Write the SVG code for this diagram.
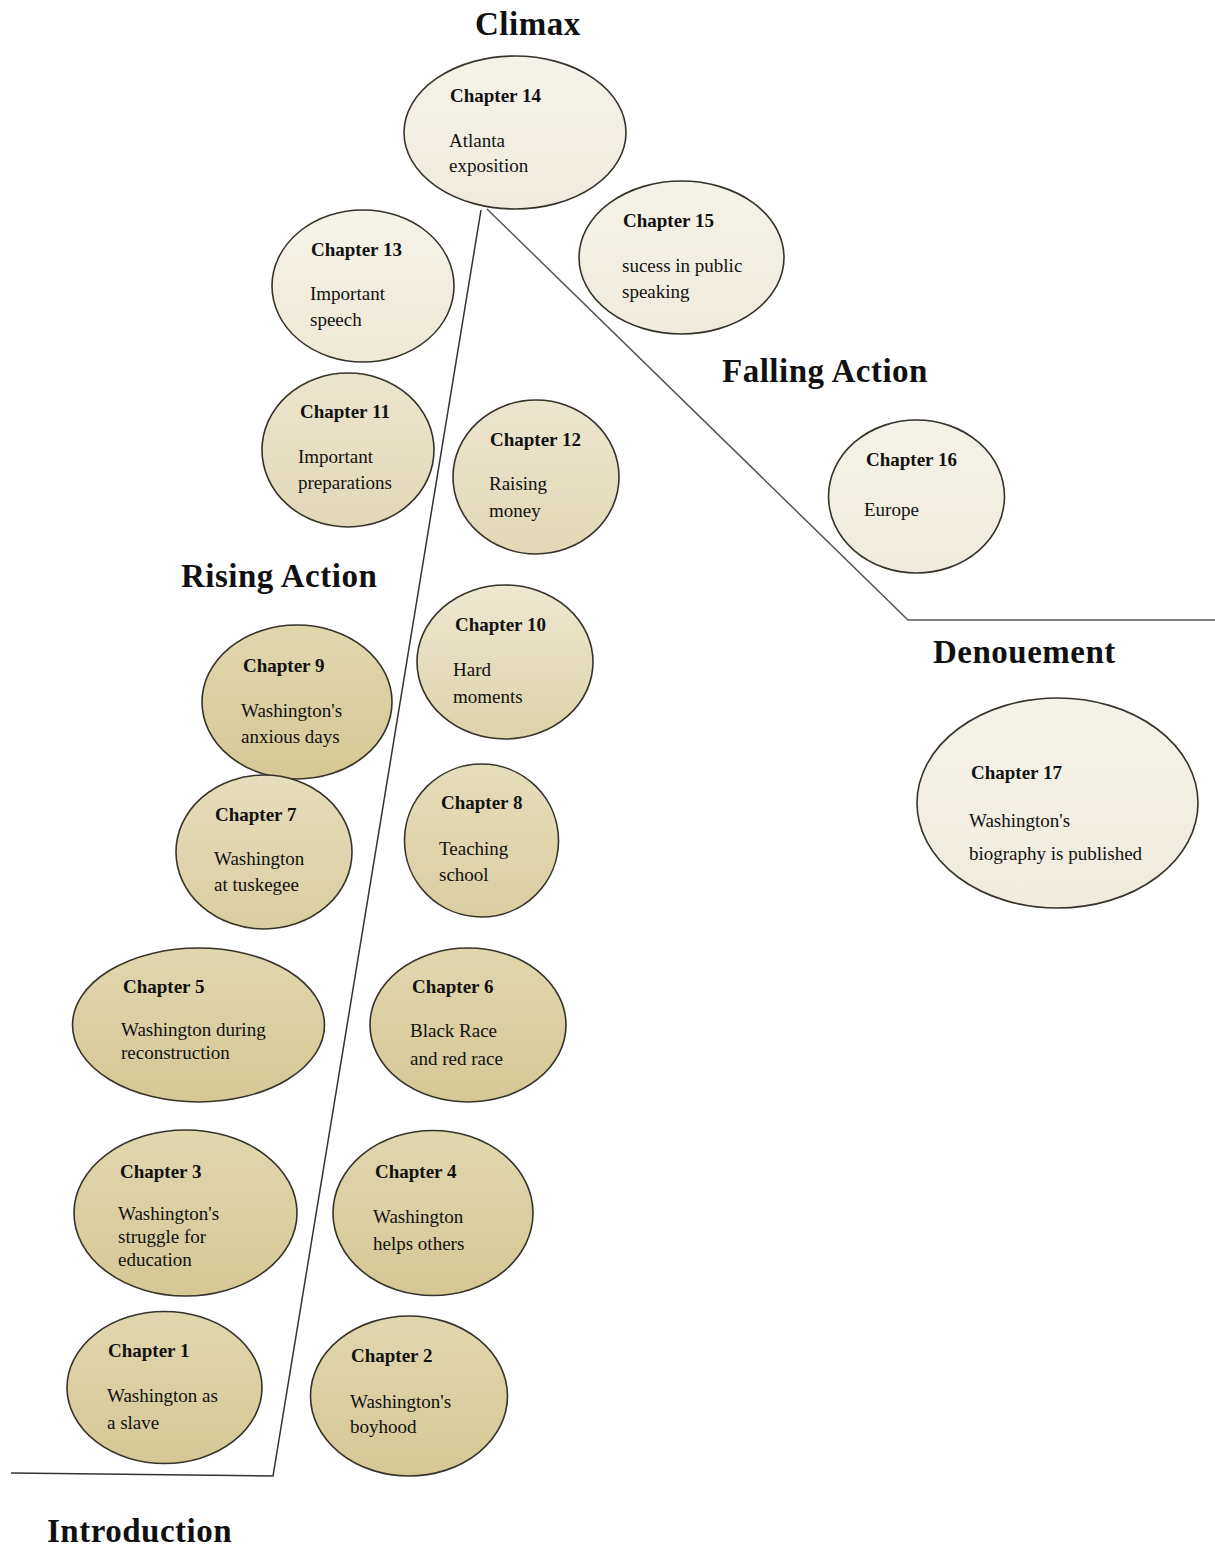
<svg xmlns="http://www.w3.org/2000/svg" width="1215" height="1546" viewBox="0 0 1215 1546">
<style>
.node ellipse{stroke:#35332a;stroke-width:1.6}
.head{font-family:"Liberation Serif","Times New Roman",serif;font-weight:bold;font-size:19px;fill:#111}
.body{font-family:"Liberation Serif","Times New Roman",serif;font-size:19px;fill:#111}
.title{font-family:"Liberation Serif","Times New Roman",serif;font-weight:bold;font-size:33px;letter-spacing:0.5px;fill:#111}
.conn line,.conn polyline{fill:none;stroke:#333;stroke-width:1.5}
</style>
<defs>
<linearGradient id="gDark" x1="0" y1="0" x2="0" y2="1"><stop offset="0" stop-color="#e1d7ae"/><stop offset="1" stop-color="#d5c895"/></linearGradient>
<linearGradient id="gMid" x1="0" y1="0" x2="0" y2="1"><stop offset="0" stop-color="#e6ddbb"/><stop offset="1" stop-color="#dacea0"/></linearGradient>
<linearGradient id="gTen" x1="0" y1="0" x2="0" y2="1"><stop offset="0" stop-color="#eee8d2"/><stop offset="1" stop-color="#ddd2a8"/></linearGradient>
<linearGradient id="gPale" x1="0" y1="0" x2="0" y2="1"><stop offset="0" stop-color="#ece5cf"/><stop offset="1" stop-color="#e2d8b7"/></linearGradient>
<linearGradient id="gLight" x1="0" y1="0" x2="0" y2="1"><stop offset="0" stop-color="#f6f3ea"/><stop offset="1" stop-color="#eee8d5"/></linearGradient>
<linearGradient id="gCream" x1="0" y1="0" x2="0" y2="1"><stop offset="0" stop-color="#f5f2e9"/><stop offset="1" stop-color="#f0ebdd"/></linearGradient>
</defs>
<rect width="1215" height="1546" fill="#fff"/>

<g id="connectors" class="conn">
<polyline points="11,1473 273,1476 481,210"/>
<polyline points="487,209 908,620 1215,620" style="stroke:#555"/>
</g>

<g id="titles">
<text class="title" x="475" y="35">Climax</text>
<text class="title" x="722" y="382">Falling Action</text>
<text class="title" x="181" y="587">Rising Action</text>
<text class="title" x="933" y="663">Denouement</text>
<text class="title" x="47" y="1542">Introduction</text>
</g>

<g id="ch14" class="node"><ellipse cx="515" cy="132.5" rx="111" ry="76.5" fill="url(#gCream)"/>
<text class="head" x="450" y="102">Chapter 14</text><text class="body" x="449" y="147">Atlanta</text><text class="body" x="449" y="172">exposition</text></g>

<g id="ch15" class="node"><ellipse cx="681.5" cy="257.5" rx="102.5" ry="76.5" fill="url(#gCream)"/>
<text class="head" x="623" y="227">Chapter 15</text><text class="body" x="622" y="272">sucess in public</text><text class="body" x="622" y="298">speaking</text></g>

<g id="ch13" class="node"><ellipse cx="363" cy="286" rx="91" ry="76" fill="url(#gLight)"/>
<text class="head" x="311" y="256">Chapter 13</text><text class="body" x="310" y="300">Important</text><text class="body" x="310" y="326">speech</text></g>

<g id="ch11" class="node"><ellipse cx="348" cy="450" rx="86" ry="77" fill="url(#gPale)"/>
<text class="head" x="300" y="418">Chapter 11</text><text class="body" x="298" y="463">Important</text><text class="body" x="298" y="489">preparations</text></g>

<g id="ch12" class="node"><ellipse cx="536" cy="477" rx="83" ry="77" fill="url(#gPale)"/>
<text class="head" x="490" y="446">Chapter 12</text><text class="body" x="489" y="490">Raising</text><text class="body" x="489" y="517">money</text></g>

<g id="ch16" class="node"><ellipse cx="916.5" cy="496.5" rx="88" ry="76.5" fill="url(#gCream)"/>
<text class="head" x="866" y="466">Chapter 16</text><text class="body" x="864" y="516">Europe</text></g>

<g id="ch10" class="node"><ellipse cx="505" cy="662" rx="88" ry="77" fill="url(#gTen)"/>
<text class="head" x="455" y="631">Chapter 10</text><text class="body" x="453" y="676">Hard</text><text class="body" x="453" y="703">moments</text></g>

<g id="ch9" class="node"><ellipse cx="297" cy="702" rx="95" ry="77" fill="url(#gDark)"/>
<text class="head" x="243" y="672">Chapter 9</text><text class="body" x="241" y="717">Washington's</text><text class="body" x="241" y="743">anxious days</text></g>

<g id="ch7" class="node"><ellipse cx="264" cy="852" rx="88" ry="77" fill="url(#gMid)"/>
<text class="head" x="215" y="821">Chapter 7</text><text class="body" x="214" y="865">Washington</text><text class="body" x="214" y="891">at tuskegee</text></g>

<g id="ch8" class="node"><ellipse cx="481.5" cy="840.5" rx="77" ry="76.5" fill="url(#gMid)"/>
<text class="head" x="441" y="809">Chapter 8</text><text class="body" x="439" y="855">Teaching</text><text class="body" x="439" y="881">school</text></g>

<g id="ch17" class="node"><ellipse cx="1057.5" cy="803" rx="140.5" ry="105" fill="url(#gCream)"/>
<text class="head" x="971" y="779">Chapter 17</text><text class="body" x="969" y="827">Washington's</text><text class="body" x="969" y="860">biography is published</text></g>

<g id="ch5" class="node"><ellipse cx="198.5" cy="1025" rx="126" ry="77" fill="url(#gDark)"/>
<text class="head" x="123" y="993">Chapter 5</text><text class="body" x="121" y="1036">Washington during</text><text class="body" x="121" y="1059">reconstruction</text></g>

<g id="ch6" class="node"><ellipse cx="468" cy="1025" rx="98" ry="77" fill="url(#gDark)"/>
<text class="head" x="412" y="993">Chapter 6</text><text class="body" x="410" y="1037">Black Race</text><text class="body" x="410" y="1065">and red race</text></g>

<g id="ch3" class="node"><ellipse cx="185.5" cy="1213" rx="111.5" ry="83" fill="url(#gDark)"/>
<text class="head" x="120" y="1178">Chapter 3</text><text class="body" x="118" y="1220">Washington's</text><text class="body" x="118" y="1243">struggle for</text><text class="body" x="118" y="1266">education</text></g>

<g id="ch4" class="node"><ellipse cx="433" cy="1213" rx="100" ry="82.5" fill="url(#gDark)"/>
<text class="head" x="375" y="1178">Chapter 4</text><text class="body" x="373" y="1223">Washington</text><text class="body" x="373" y="1250">helps others</text></g>

<g id="ch1" class="node"><ellipse cx="164.5" cy="1387.5" rx="97.5" ry="76" fill="url(#gDark)"/>
<text class="head" x="108" y="1357">Chapter 1</text><text class="body" x="107" y="1402">Washington as</text><text class="body" x="107" y="1429">a slave</text></g>

<g id="ch2" class="node"><ellipse cx="409" cy="1396" rx="98.5" ry="80" fill="url(#gDark)"/>
<text class="head" x="351" y="1362">Chapter 2</text><text class="body" x="350" y="1408">Washington's</text><text class="body" x="350" y="1433">boyhood</text></g>
</svg>
